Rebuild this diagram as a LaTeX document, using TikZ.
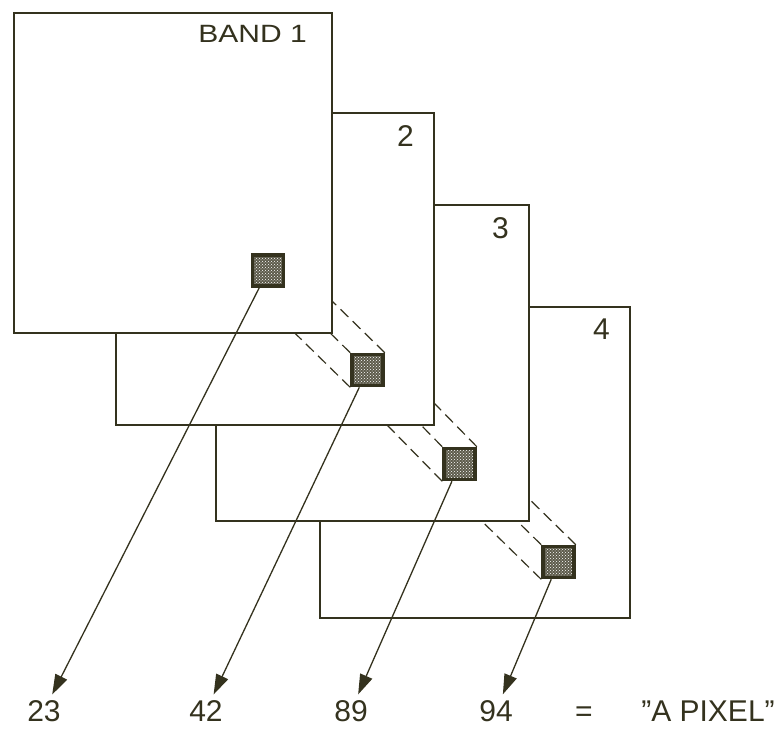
\documentclass[tikz,border=0pt]{standalone}
\usepackage{fontspec}
\newfontfamily\etichetta{Liberation Sans}
\newfontfamily\etichettalarga[FakeStretch=1.2]{Liberation Sans}
\usetikzlibrary{arrows.meta, patterns}
\definecolor{inchiostro}{RGB}{52,50,30}

\begin{document}
\begin{tikzpicture}[
  x=1pt, y=-1pt,
  banda/.style={draw=inchiostro, fill=white, line width=2.4pt},
  quadretto/.style={draw=inchiostro, line width=3.6pt, minimum size=31pt,
    inner sep=0pt, preaction={fill=inchiostro!80}, pattern=crosshatch dots,
    pattern color=white},
  proiezione/.style={draw=inchiostro, line width=1.2pt, dash pattern=on 11pt off 6pt},
  numero/.style={text=inchiostro, inner sep=0pt, font=\etichetta\fontsize{30}{36}\selectfont},
  titolo/.style={text=inchiostro, inner sep=0pt, font=\etichettalarga\fontsize{25}{30}\selectfont},
  valore/.style={text=inchiostro, inner sep=0pt, anchor=base, font=\etichetta\fontsize{30}{36}\selectfont},
  freccia/.style={draw=inchiostro, line width=1.3pt, shorten >=6pt,
    -{Triangle[length=20pt,width=13pt]}}
]
\useasboundingbox (0,0) rectangle (784,728);

%==============================================================
% Bande, dal fondo verso il davanti
%==============================================================
% num / sinistra / alto / destra / basso / pixel x / pixel y / dx / dy / testo / stile / margine
\foreach \k/\L/\T/\R/\B/\cx/\cy/\dx/\dy/\testo/\stile/\mrg in {%
  4/320/307/630/618/558.5/562/99/97/{4}/numero/20,
  3/216/205/529/521/459.5/464/92/94/{3}/numero/20,
  2/116/113/434/425/367.5/370/99/97/{2}/numero/20,
  1/14/13/332/333/268/270.5/0/0/{BAND 1}/titolo/25} {
  \draw[banda] (\L,\T) rectangle (\R,\B);
  \node[\stile, anchor=north east] (n\k) at ({\R-\mrg},{\T+12}) {\testo};
  \node[quadretto] (p\k) at (\cx,\cy) {};
  % linee tratteggiate verso la banda precedente
  \ifnum\k>1
    \draw[proiezione] (p\k.north west) -- ++(-\dx,-\dy);
    \draw[proiezione] (p\k.north east) -- ++(-\dx,-\dy);
    \draw[proiezione] (p\k.south west) -- ++(-\dx,-\dy);
  \fi
}

%==============================================================
% Valori del pixel
%==============================================================
\foreach \k/\x/\val in {1/44/23, 2/206/42, 3/351/89, 4/496/94} {
  \node[valore] (v\k) at (\x,721) {\val};
  \draw[freccia] (p\k) -- (v\k);
}
\node[valore] (uguale) at (584,721) {=};
\node[valore] (pixel) at (708,721) {”A PIXEL”};

\end{tikzpicture}
\end{document}
